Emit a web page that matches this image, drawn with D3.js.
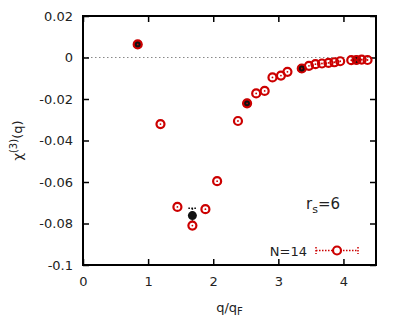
<!DOCTYPE html>
<html>
<head>
<meta charset="utf-8">
<script src="https://cdn.jsdelivr.net/npm/d3@7"></script>
<style>
  body { margin: 0; background: #fff; }
  text { font-family: "DejaVu Sans", sans-serif; fill: #222; }
</style>
</head>
<body>
<svg id="chart"></svg>
<script>
/* DATA */
// red open circles, N=14
const qN14 = [1.19, 1.45, 1.68, 1.88, 2.06, 2.38, 2.52, 2.66, 2.79, 2.91, 3.04, 3.14,
  3.36, 3.47, 3.57, 3.67, 3.77, 3.86, 3.95, 4.12, 4.20, 4.28, 4.37, 0.84];
const chiN14 = [-0.0321, -0.0720, -0.0810, -0.0731, -0.0596, -0.0306, -0.0221, -0.0173, -0.0161,
  -0.0096, -0.0087, -0.0069, -0.0053, -0.0040, -0.0032, -0.0029, -0.0026, -0.0023, -0.0018,
  -0.0013, -0.0012, -0.0010, -0.0012, 0.0063];
// black filled points
const qBlack = [0.84, 1.68, 2.52, 3.36, 4.20];
const chiBlack = [0.0063, -0.0762, -0.0221, -0.0053, -0.0012];
const errBlack = [0.0003, 0.0035, 0.0003, 0.0003, 0.0003];

const xTicks = [0, 1, 2, 3, 4];
const yTicks = [0.02, 0, -0.02, -0.04, -0.06, -0.08, -0.1];

/* CONSTANTS */
const width = 403, height = 333,
  margin = { top: 16, bottom: 68, left: 83, right: 27 };
const red = "#cc0000";

const svg = d3.select("#chart").attr("width", width).attr("height", height);

const xScale = d3.scaleLinear().domain([0, 4.5]).range([margin.left, width - margin.right]);
const yScale = d3.scaleLinear().domain([-0.1, 0.02]).range([height - margin.bottom, margin.top]);

// zero line
svg.append("line")
  .attr("x1", xScale(0)).attr("x2", xScale(4.5))
  .attr("y1", yScale(0)).attr("y2", yScale(0))
  .attr("stroke", "#888").attr("stroke-width", 1).attr("stroke-dasharray", "1.5,2.5");

// axes (ticks inside, mirrored)
const fmtY = d => d === 0 ? "0" : String(+d.toFixed(2));
svg.append("g")
  .attr("transform", `translate(0,${height - margin.bottom})`)
  .call(d3.axisBottom(xScale).tickValues(xTicks).tickSize(-6).tickPadding(12).tickFormat(d3.format("d")))
  .call(g => g.selectAll("text").attr("font-size", 13));
svg.append("g")
  .attr("transform", `translate(0,${margin.top})`)
  .call(d3.axisTop(xScale).tickValues(xTicks).tickSize(-6).tickFormat(""));
svg.append("g")
  .attr("transform", `translate(${margin.left},0)`)
  .call(d3.axisLeft(yScale).tickValues(yTicks).tickSize(-6).tickPadding(10).tickFormat(fmtY))
  .call(g => g.selectAll("text").attr("font-size", 13));
svg.append("g")
  .attr("transform", `translate(${width - margin.right},0)`)
  .call(d3.axisRight(yScale).tickValues(yTicks).tickSize(-6).tickFormat(""));
svg.selectAll(".domain").remove();
svg.selectAll(".tick line").attr("stroke", "#000").attr("stroke-width", 1.5);

svg.append("rect")
  .attr("x", margin.left).attr("y", margin.top)
  .attr("width", width - margin.left - margin.right)
  .attr("height", height - margin.top - margin.bottom)
  .attr("fill", "none").attr("stroke", "#000").attr("stroke-width", 2);

// black points with error bars
const black = d3.zip(qBlack, chiBlack, errBlack);
svg.selectAll(".berr").data(black).join("line")
  .attr("x1", d => xScale(d[0])).attr("x2", d => xScale(d[0]))
  .attr("y1", d => yScale(d[1] + d[2])).attr("y2", d => yScale(d[1] - d[2]))
  .attr("stroke", "#000").attr("stroke-width", 1.5).attr("stroke-dasharray", "1.5,1.5");
svg.selectAll(".bcap").data(black).join("line")
  .attr("x1", d => xScale(d[0]) - 4).attr("x2", d => xScale(d[0]) + 4)
  .attr("y1", d => yScale(d[1] + d[2])).attr("y2", d => yScale(d[1] + d[2]))
  .attr("stroke", "#000").attr("stroke-width", 1.5).attr("stroke-dasharray", "1.5,1.5");
svg.selectAll(".bdot").data(black).join("circle")
  .attr("cx", d => xScale(d[0])).attr("cy", d => yScale(d[1]))
  .attr("r", 4.5).attr("fill", "#111");

// red open circles
const reds = d3.zip(qN14, chiN14);
svg.selectAll(".rdot").data(reds).join("circle")
  .attr("cx", d => xScale(d[0])).attr("cy", d => yScale(d[1]))
  .attr("r", 4).attr("fill", "none").attr("stroke", red).attr("stroke-width", 2.2);
svg.selectAll(".rc").data(reds).join("circle")
  .attr("cx", d => xScale(d[0])).attr("cy", d => yScale(d[1]))
  .attr("r", 0.9).attr("fill", red);

// labels
svg.append("text")
  .attr("transform", `translate(22,${(margin.top + height - margin.bottom) / 2}) rotate(-90)`)
  .attr("text-anchor", "middle").attr("font-size", 13)
  .html('χ<tspan dy="-5" font-size="10">(3)</tspan><tspan dy="5">(q)</tspan>');
svg.append("text")
  .attr("x", (margin.left + width - margin.right) / 2).attr("y", 312)
  .attr("text-anchor", "middle").attr("font-size", 13)
  .html('q/q<tspan dy="3" font-size="10">F</tspan>');
svg.append("text")
  .attr("x", 306).attr("y", 209).attr("font-size", 15)
  .html('r<tspan dy="4" font-size="11">s</tspan><tspan dy="-4">=6</tspan>');

// legend
svg.append("text").attr("x", 307).attr("y", 256)
  .attr("text-anchor", "end").attr("font-size", 13).text("N=14");
const lg = svg.append("g").attr("stroke", red).attr("stroke-width", 1.5).attr("stroke-dasharray", "1.5,1.5");
lg.append("line").attr("x1", 316).attr("x2", 358).attr("y1", 250.5).attr("y2", 250.5);
lg.append("line").attr("x1", 316).attr("x2", 316).attr("y1", 247).attr("y2", 254);
lg.append("line").attr("x1", 358).attr("x2", 358).attr("y1", 247).attr("y2", 254);
svg.append("circle").attr("cx", 337).attr("cy", 250.5).attr("r", 4)
  .attr("fill", "#fff").attr("stroke", red).attr("stroke-width", 2.2);
</script>
</body>
</html>
